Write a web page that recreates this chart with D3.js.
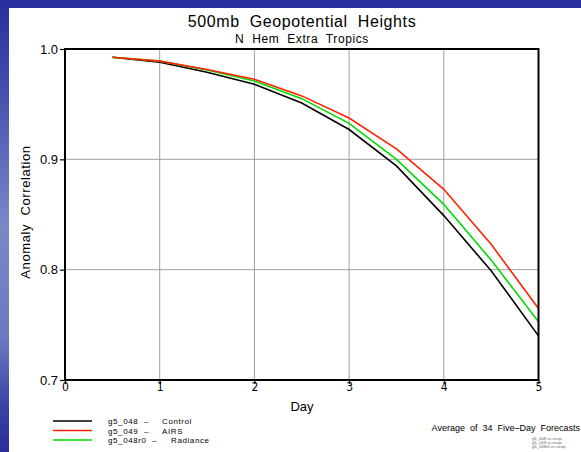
<!DOCTYPE html>
<html><head><meta charset="utf-8">
<script src="https://cdn.jsdelivr.net/npm/d3@7/dist/d3.min.js"></script>
<style>body{margin:0;background:#fff}svg{display:block}text{font-family:"Liberation Sans",Arial,sans-serif;white-space:pre}</style>
</head><body>
<script>
const days = [0.5,1,1.5,2,2.5,3,3.5,4,4.5,5];
const control = [0.9925,0.988,0.979,0.968,0.951,0.927,0.894,0.849,0.799,0.740];
const airs = [0.9925,0.989,0.9815,0.9725,0.9575,0.9375,0.9095,0.8728,0.823,0.7648];
const radiance = [0.9925,0.989,0.981,0.971,0.955,0.9326,0.900,0.8592,0.8087,0.7527];
const seriesIds = ["g5_048  \u2013","g5_049  \u2013","g5_048r0  \u2013"];
const seriesLabels = ["Control","AIRS","Radiance"];
const seriesColors = ["#000000","#ff2200","#00dd00"];
const xTicks = [0,1,2,3,4,5];
const yTicks = [0.7,0.8,0.9,1.0];

const W=581,H=452;
const svg=d3.select("body").append("svg").attr("width",W).attr("height",H);
const defs=svg.append("defs");
const g1=defs.append("linearGradient").attr("id","side").attr("x1",0).attr("x2",0).attr("y1",0).attr("y2",1);
[[0,"#2a2f9c"],[0.15,"#3c46a8"],[0.5,"#7a88c8"],[0.75,"#6a78c0"],[0.9,"#3a42a4"],[1,"#2a2f98"]].forEach(s=>g1.append("stop").attr("offset",s[0]).attr("stop-color",s[1]));
svg.append("rect").attr("x",0).attr("y",0).attr("width",W).attr("height",H).attr("fill","#fff");
svg.append("rect").attr("x",0).attr("y",0).attr("width",9).attr("height",H).attr("fill","url(#side)");
svg.append("rect").attr("x",0).attr("y",0).attr("width",W).attr("height",8).attr("fill","#2b30a0");

const x=d3.scaleLinear().domain([0,5]).range([65,538.5]);
const y=d3.scaleLinear().domain([0.7,1.0]).range([380,49]);

// grid
svg.append("g").selectAll("line").data(xTicks.slice(1,5)).join("line")
 .attr("x1",d=>x(d)).attr("x2",d=>x(d)).attr("y1",y(0.7)).attr("y2",y(1.0))
 .attr("stroke","#a0a0a0").attr("stroke-width",1);
svg.append("g").selectAll("line").data(yTicks.slice(1,3)).join("line")
 .attr("y1",d=>y(d)).attr("y2",d=>y(d)).attr("x1",x(0)).attr("x2",x(5))
 .attr("stroke","#a0a0a0").attr("stroke-width",1);

// series
const line=d3.line().x(d=>x(d[0])).y(d=>y(d[1]));
[[control,0],[radiance,2],[airs,1]].forEach(([s,ci])=>{
  svg.append("path").attr("d",line(days.map((d,j)=>[d,s[j]]))).attr("fill","none").attr("stroke",seriesColors[ci]).attr("stroke-width",1.6);
});

// frame
svg.append("rect").attr("x",x(0)).attr("y",y(1.0)).attr("width",x(5)-x(0)).attr("height",y(0.7)-y(1.0))
 .attr("fill","none").attr("stroke","#000").attr("stroke-width",2);

// axes
const ya=svg.append("g").attr("transform",`translate(${x(0)},0)`).call(d3.axisLeft(y).tickValues(yTicks).tickFormat(d3.format(".1f")).tickSize(5).tickPadding(2));
ya.select(".domain").remove();
ya.selectAll("text").attr("font-size",13).attr("fill","#000");
ya.selectAll("line").attr("stroke","#000").attr("stroke-width",1.2);
const xa=svg.append("g").attr("transform",`translate(0,${y(0.7)})`).call(d3.axisBottom(x).tickValues(xTicks).tickFormat(d3.format("d")).tickSize(4).tickPadding(0));
xa.select(".domain").remove();
xa.selectAll("line").attr("stroke","#000").attr("stroke-width",1.2);
xa.selectAll("text").attr("font-size",12).attr("fill","#000").attr("dy","0.75em").attr("y",2)
  .style("font-family","'DejaVu Sans Condensed','Liberation Sans Narrow',sans-serif");

// titles
svg.append("text").attr("x",302).attr("y",27).attr("text-anchor","middle").attr("font-size",16).attr("letter-spacing",0.6).text("500mb  Geopotential  Heights");
svg.append("text").attr("x",302).attr("y",43).attr("text-anchor","middle").attr("font-size",12).attr("letter-spacing",0.6).text("N  Hem  Extra  Tropics");
svg.append("text").attr("x",302).attr("y",411).attr("text-anchor","middle").attr("font-size",13).text("Day");
svg.append("text").attr("transform","translate(30,212) rotate(-90)").attr("text-anchor","middle").attr("font-size",13).attr("letter-spacing",0.6).text("Anomaly  Correlation");

// legend
const lg=svg.append("g");
const labelX=[162,162,171];
seriesIds.forEach((n,i)=>{
  const ly=421+i*9.5;
  lg.append("line").attr("x1",53).attr("x2",92).attr("y1",ly).attr("y2",ly).attr("stroke",seriesColors[i]).attr("stroke-width",1.5);
  lg.append("text").attr("x",108).attr("y",ly+3).attr("font-size",8).attr("letter-spacing",0.6).text(n);
  lg.append("text").attr("x",labelX[i]).attr("y",ly+3).attr("font-size",8).attr("letter-spacing",0.6).text(seriesLabels[i]);
});

svg.append("text").attr("x",580).attr("y",431).attr("text-anchor","end").attr("font-size",9).text("Average  of  34  Five\u2013Day  Forecasts");
["g5_048 vs ncep","g5_049 vs ncep","g5_048r0 vs ncep"].forEach((t,i)=>{
  svg.append("text").attr("x",532).attr("y",440+i*4).attr("font-size",4.2).attr("fill","#666").text(t);
});
</script>
</body></html>
